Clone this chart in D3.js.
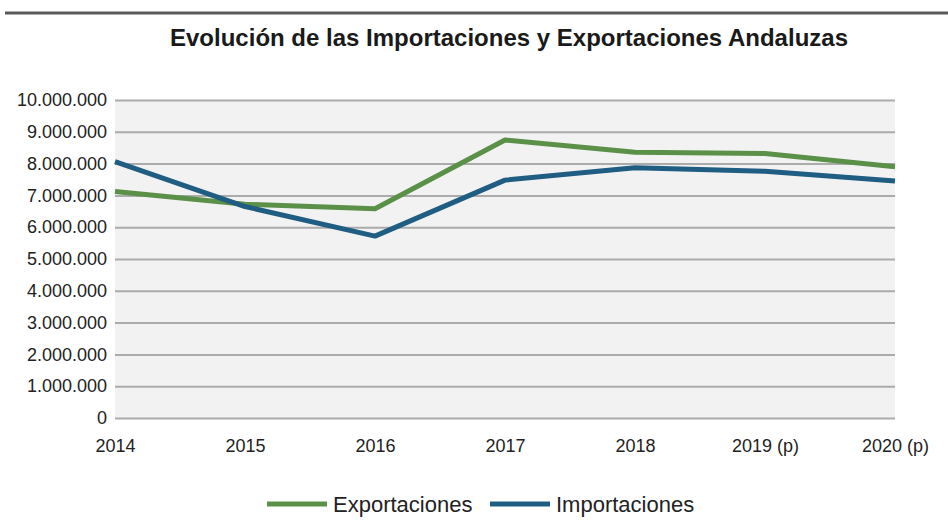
<!DOCTYPE html>
<html>
<head>
<meta charset="utf-8">
<script src="https://cdn.jsdelivr.net/npm/d3@7"></script>
<style>
  body { margin: 0; background: #fff; }
  svg { display: block; font-family: "Liberation Sans", Arial, sans-serif; }
</style>
</head>
<body>
<div class="chart"></div>
<script>
// datos
var years = ["2014", "2015", "2016", "2017", "2018", "2019 (p)", "2020 (p)"];
var exportaciones = [7120000, 6720000, 6580000, 8740000, 8360000, 8320000, 7900000];
var importaciones = [8060000, 6650000, 5720000, 7480000, 7870000, 7760000, 7450000];
var yTicks = [0, 1000000, 2000000, 3000000, 4000000, 5000000, 6000000, 7000000, 8000000, 9000000, 10000000];

var width = 948, height = 521;
var svg = d3.select(".chart").append("svg")
            .attr("width", width)
            .attr("height", height);
var padding = {left: 115, right: 53, top: 100, bottom: 103};

// escalas
var xScale = d3.scalePoint().domain(years).range([padding.left, width - padding.right]);
var yScale = d3.scaleLinear().domain([0, 10000000]).range([height - padding.bottom, padding.top]);

var fmt = function(d) { return d3.format(",")(d).replace(/,/g, "."); };

// linea superior
svg.append("line")
   .attr("x1", 5).attr("x2", width).attr("y1", 13).attr("y2", 13)
   .attr("stroke", "#5a5a5a").attr("stroke-width", 3);

// titulo
svg.append("text")
   .attr("x", 509).attr("y", 46)
   .attr("text-anchor", "middle")
   .style("font-size", "24px").style("font-weight", "bold").style("fill", "#1a1a1a")
   .text("Evolución de las Importaciones y Exportaciones Andaluzas");

// fondo
svg.append("rect")
   .attr("x", padding.left).attr("y", padding.top)
   .attr("width", width - padding.left - padding.right)
   .attr("height", height - padding.top - padding.bottom)
   .attr("fill", "#f2f2f2");

// ejes
var yAxis = d3.axisLeft(yScale).tickValues(yTicks).tickFormat(fmt)
              .tickSize(-(width - padding.left - padding.right)).tickPadding(8);
var gy = svg.append("g").attr("transform", "translate(" + padding.left + ",0)").call(yAxis);
gy.select(".domain").remove();
gy.selectAll("line").attr("stroke", "#ababab").attr("stroke-width", 2);
gy.selectAll("text").style("font-size", "18px").style("fill", "#222");

var xAxis = d3.axisBottom(xScale).tickSize(0).tickPadding(21);
var gx = svg.append("g").attr("transform", "translate(0," + (height - padding.bottom) + ")").call(xAxis);
gx.select(".domain").remove();
gx.selectAll("text").style("font-size", "18px").style("fill", "#222");

// lineas
var line = d3.line()
             .x(function(d, i) { return xScale(years[i]); })
             .y(function(d) { return yScale(d); });

var series = [
  {name: "Exportaciones", values: exportaciones, color: "#5a9048"},
  {name: "Importaciones", values: importaciones, color: "#205d82"}
];

svg.selectAll(".serie").data(series).enter().append("path")
   .attr("class", "serie")
   .attr("d", function(d) { return line(d.values); })
   .attr("fill", "none")
   .attr("stroke", function(d) { return d.color; })
   .attr("stroke-width", 5)
   .attr("stroke-linejoin", "round");

// leyenda
var legend = svg.append("g").attr("transform", "translate(267,504)");
var legendX = [0, 223];
var items = legend.selectAll(".item").data(series).enter().append("g")
   .attr("class", "item")
   .attr("transform", function(d, i) { return "translate(" + legendX[i] + ",0)"; });
items.append("line")
   .attr("x1", 0).attr("x2", 60).attr("y1", 0).attr("y2", 0)
   .attr("stroke", function(d) { return d.color; }).attr("stroke-width", 5);
items.append("text")
   .attr("x", 66).attr("y", 8)
   .style("font-size", "22px").style("fill", "#222")
   .text(function(d) { return d.name; });
</script>
</body>
</html>
